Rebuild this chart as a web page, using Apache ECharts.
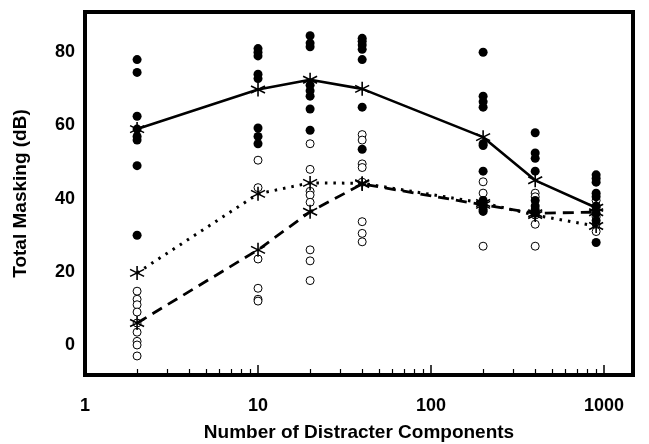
<!DOCTYPE html>
<html>
<head>
<meta charset="utf-8">
<script src="https://cdn.jsdelivr.net/npm/echarts@6/dist/echarts.min.js"></script>
<style>
  html, body { margin: 0; padding: 0; background: #fff; }
  #chart-container { width: 649px; height: 444px; }
</style>
</head>
<body>
<div id="chart-container"></div>
<script>
// number of distracter components (x positions of the columns)
var xValues = [2, 10, 20, 40, 200, 400, 900];

// mean curves (asterisks)
var meanSolid = [59, 69.8, 72.5, 70, 56.8, 45, 37.5];
var meanDotted = [19.7, 41.3, 44.3, 44.2, 38.8, 35.5, 32.5];
var meanDashed = [6, 26, 36.4, 44, 38.3, 36, 36.3];

// individual listeners, filled circles (one list per column)
var filledPoints = [
  [78, 74.5, 62.5, 59, 57, 56, 49, 30],
  [81, 80, 79, 74, 72.8, 59.3, 57, 55],
  [84.5, 82.5, 81.5, 71, 69.5, 68, 64.5, 58.7],
  [83.8, 83, 82, 80.8, 78, 65, 53.5],
  [80, 68, 66.5, 65, 55, 54.5, 47.5, 39.5, 38, 37, 36.5],
  [58, 52.5, 51, 47.5, 39.5, 38, 37, 36],
  [46.5, 45.5, 44.5, 41.5, 40.5, 38, 36, 34, 28]
];

// individual listeners, open circles
var openPoints = [
  [14.7, 12.5, 11, 9, 6, 3.5, 1, 0, -3],
  [50.5, 43, 23.5, 15.5, 12.5, 12],
  [55, 48, 42, 41, 39, 26, 23, 17.6],
  [57.5, 56, 49.5, 48.5, 44.5, 33.7, 30.5, 28.2],
  [44.6, 41.5, 39, 27],
  [41.5, 40.5, 35.5, 33, 27],
  [39.5, 37.5, 35, 33, 31]
];

var xTickLabels = [1, 10, 100, 1000];
var xMajorTicks = [10, 100, 1000];
var xMinorTicks = [2, 3, 4, 5, 6, 7, 8, 9, 20, 30, 40, 50, 60, 70, 80, 90,
  200, 300, 400, 500, 600, 700, 800, 900];
var yTickLabels = [0, 20, 40, 60, 80];

function toPairs(lists) {
  var out = [];
  lists.forEach(function (list, i) {
    list.forEach(function (v) { out.push([xValues[i], v]); });
  });
  return out;
}
function zipX(vals) {
  return vals.map(function (v, i) { return [xValues[i], v]; });
}

var asterisk = 'path://M10,0L10,20M1.3,5L18.7,15M1.3,15L18.7,5';
var font = '"Liberation Sans", Arial, sans-serif';

var dom = document.getElementById("chart-container");
var myChart = echarts.init(dom, null, { renderer: "canvas" });

var option = {
  animation: false,
  backgroundColor: "#fff",
  grid: {
    left: 85, right: 16, top: 12, bottom: 69,
    outerBoundsMode: "none", containLabel: false,
    show: true, borderColor: "#000", borderWidth: 4, backgroundColor: "transparent"
  },
  xAxis: [
    {
      type: "log", logBase: 10, min: 1, max: 1470, position: "bottom",
      name: "Number of Distracter Components",
      nameLocation: "middle", nameGap: 48,
      nameTextStyle: { fontFamily: font, fontWeight: "bold", fontSize: 19, color: "#000" },
      axisLine: { show: false, onZero: false },
      splitLine: { show: false },
      axisTick: { inside: true, length: 10, customValues: xMajorTicks, lineStyle: { color: "#000", width: 1.5 } },
      axisLabel: {
        customValues: xTickLabels, margin: 22,
        formatter: function (v) { return String(Math.round(v)); },
        fontFamily: font, fontWeight: "bold", fontSize: 18, color: "#000"
      }
    },
    {
      type: "log", logBase: 10, min: 1, max: 1470, position: "bottom", offset: 0,
      axisLine: { show: false, onZero: false },
      splitLine: { show: false },
      axisTick: { inside: true, length: 6, customValues: xMinorTicks, lineStyle: { color: "#000", width: 1.2 } },
      axisLabel: { show: false }
    }
  ],
  yAxis: {
    type: "value", min: -8.2, max: 91,
    name: "Total Masking (dB)",
    nameLocation: "middle", nameGap: 55,
    nameTextStyle: { fontFamily: font, fontWeight: "bold", fontSize: 19, color: "#000" },
    axisLine: { show: false, onZero: false },
    splitLine: { show: false },
    axisTick: { show: false },
    axisLabel: { customValues: yTickLabels, margin: 10, fontFamily: font, fontWeight: "bold", fontSize: 18, color: "#000" }
  },
  series: [
    {
      name: "open", type: "scatter", data: toPairs(openPoints),
      symbol: "circle", symbolSize: 8,
      itemStyle: { color: "#fff", borderColor: "#000", borderWidth: 1, opacity: 1 }
    },
    {
      name: "filled", type: "scatter", data: toPairs(filledPoints),
      symbol: "circle", symbolSize: 9,
      itemStyle: { color: "#000", opacity: 1 }
    },
    {
      name: "dashed", type: "line", data: zipX(meanDashed),
      symbol: asterisk, symbolSize: 14, showSymbol: true,
      lineStyle: { color: "#000", width: 2.8, type: [11, 7] },
      itemStyle: { color: "#000", borderColor: "#000", borderWidth: 1.6 }
    },
    {
      name: "dotted", type: "line", data: zipX(meanDotted),
      symbol: asterisk, symbolSize: 14, showSymbol: true,
      lineStyle: { color: "#000", width: 3, type: [2.5, 6] },
      itemStyle: { color: "#000", borderColor: "#000", borderWidth: 1.6 }
    },
    {
      name: "solid", type: "line", data: zipX(meanSolid),
      symbol: asterisk, symbolSize: 14, showSymbol: true,
      lineStyle: { color: "#000", width: 2.6 },
      itemStyle: { color: "#000", borderColor: "#000", borderWidth: 1.6 }
    }
  ]
};

myChart.setOption(option);
window.addEventListener("resize", myChart.resize);
</script>
</body>
</html>
